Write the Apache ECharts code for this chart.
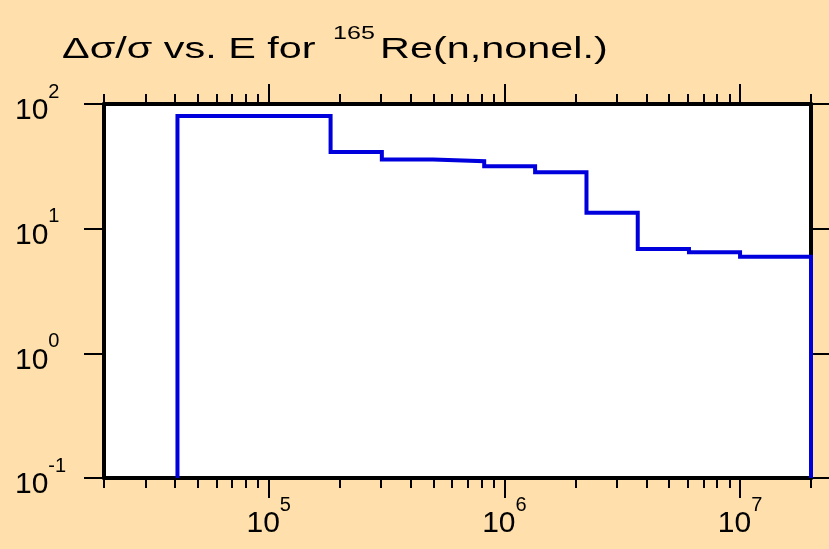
<!DOCTYPE html>
<html>
<head>
<meta charset="utf-8">
<script src="https://cdn.jsdelivr.net/npm/echarts@6/dist/echarts.min.js"></script>
<style>
html,body{margin:0;padding:0;background:#FFDFAB;}
#chart{width:829px;height:549px;}
</style>
</head>
<body>
<div id="chart"></div>
<script>
// Bin edges (energy, eV) and relative uncertainty per bin (%)
const binEdges = [4.1e4, 1.83e5, 3.02e5, 4.98e5, 8.21e5, 1.35e6, 2.23e6, 3.68e6, 6.07e6, 1.0e7, 2.0e7];
const binValues = [80, 41.2, 35.9, 34.8, 31.6, 28.3, 13.4, 6.87, 6.47, 5.96];

const xRange = [2e4, 2e7];
const yRange = [0.1, 100];
const xMajorTicks = [1e5, 1e6, 1e7];
const xTickExponents = ['5', '6', '7'];
const xMinorTicks = [2e4, 3e4, 4e4, 5e4, 6e4, 7e4, 8e4, 9e4,
  2e5, 3e5, 4e5, 5e5, 6e5, 7e5, 8e5, 9e5,
  2e6, 3e6, 4e6, 5e6, 6e6, 7e6, 8e6, 9e6, 2e7];
const yMajorTicks = [0.1, 1, 10, 100];
const yTickExponents = ['-1', '0', '1', '2'];

const titleParts = ['\u0394\u03c3/\u03c3 vs. E for ', '165', 'Re(n,nonel.)'];

// build step polyline points from bins
const stepData = [[binEdges[0], yRange[0]]];
for (let i = 0; i < binValues.length; i++) stepData.push([binEdges[i], binValues[i]]);
stepData.push([binEdges[binEdges.length - 1], binValues[binValues.length - 1]]);
stepData.push([binEdges[binEdges.length - 1], yRange[0]]);

const FONT = '"Liberation Sans", Arial, Helvetica, sans-serif';
const rich = {
  b: { fontSize: 30, fontFamily: FONT, color: '#000', lineHeight: 44, verticalAlign: 'bottom' },
  s: { fontSize: 20, fontFamily: FONT, color: '#000', lineHeight: 22, verticalAlign: 'top' }
};
function fmt(ticks, exps) {
  return function (v) {
    const e = Math.round(Math.log10(v));
    for (let i = 0; i < ticks.length; i++) {
      if (Math.round(Math.log10(ticks[i])) === e) return '{b|10}{s|' + exps[i] + '}';
    }
    return '';
  };
}
const axisLineStyle = { show: true, lineStyle: { color: '#000', width: 4 } };
const tickStyle = { color: '#000', width: 2 };

function xAx(pos, ticks, len, withLine, withLabel) {
  return {
    type: 'log', logBase: 10, min: xRange[0], max: xRange[1], position: pos,
    axisLine: withLine ? axisLineStyle : { show: false },
    axisTick: { show: true, inside: false, length: len, lineStyle: tickStyle, customValues: ticks },
    axisLabel: withLabel ? {
      show: true, customValues: ticks, margin: 17, formatter: fmt(xMajorTicks, xTickExponents), rich: rich
    } : { show: false },
    splitLine: { show: false }, minorTick: { show: false }, minorSplitLine: { show: false }
  };
}
function yAx(pos, withLabel) {
  return {
    type: 'log', logBase: 10, min: yRange[0], max: yRange[1], position: pos,
    axisLine: axisLineStyle,
    axisTick: { show: true, inside: false, length: 20, lineStyle: tickStyle, customValues: yMajorTicks },
    axisLabel: withLabel ? {
      show: true, customValues: yMajorTicks, margin: 89, align: 'left', formatter: fmt(yMajorTicks, yTickExponents), rich: rich
    } : { show: false },
    splitLine: { show: false }, minorTick: { show: false }, minorSplitLine: { show: false }
  };
}

const chart = echarts.init(document.getElementById('chart'), null, { renderer: 'canvas' });
chart.setOption({
  backgroundColor: '#FFDFAB',
  animation: false,
  grid: { left: 104, right: 18, top: 104, bottom: 71, containLabel: false, outerBoundsMode: 'none',
          show: true, backgroundColor: '#ffffff', borderWidth: 0 },
  xAxis: [
    xAx('bottom', xMajorTicks, 20, true, true),
    xAx('bottom', xMinorTicks, 10, false, false),
    xAx('top', xMajorTicks, 20, true, false),
    xAx('top', xMinorTicks, 10, false, false)
  ],
  yAxis: [yAx('left', true), yAx('right', false)],
  graphic: [
    { type: 'text', x: 62, y: 50, scaleX: 1.38, style: { text: titleParts[0], font: '30px ' + FONT, fill: '#000', textVerticalAlign: 'middle' } },
    { type: 'text', x: 333, y: 34, scaleX: 1.32, style: { text: titleParts[1], font: '19px ' + FONT, fill: '#000', textVerticalAlign: 'middle' } },
    { type: 'text', x: 380, y: 50, scaleX: 1.38, style: { text: titleParts[2], font: '30px ' + FONT, fill: '#000', textVerticalAlign: 'middle' } }
  ],
  series: [{
    type: 'line', xAxisIndex: 0, yAxisIndex: 0, step: 'end', showSymbol: false, symbol: 'none',
    data: stepData, lineStyle: { color: '#0000DD', width: 4, join: 'miter' }, z: 5, silent: true
  }]
});
</script>
</body>
</html>
